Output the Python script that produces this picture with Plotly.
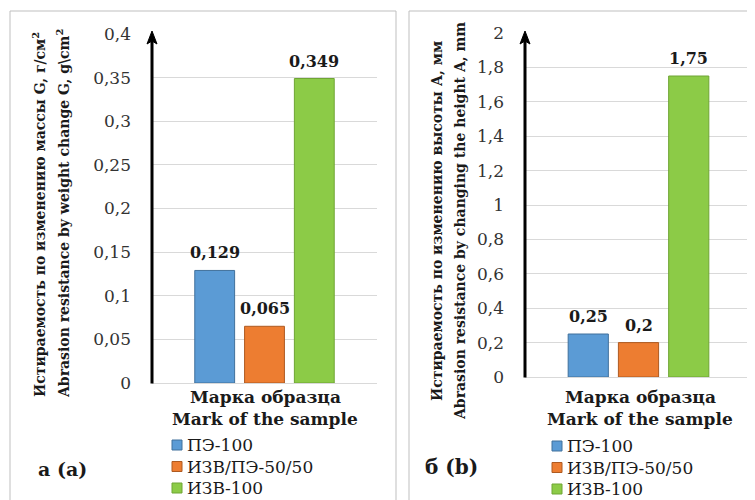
import plotly.graph_objects as go

# ---- data ----
series_names = ["ПЭ-100", "ИЗВ/ПЭ-50/50", "ИЗВ-100"]
category = ["Марка образца"]
weight_loss = [0.129, 0.065, 0.349]      # panel a, g/cm2
height_loss = [0.25, 0.2, 1.75]          # panel b, mm
ticks_a = [0, 0.05, 0.1, 0.15, 0.2, 0.25, 0.3, 0.35, 0.4]
ticks_b = [0, 0.2, 0.4, 0.6, 0.8, 1.0, 1.2, 1.4, 1.6, 1.8, 2.0]
ticklabels_a = ["0", "0,05", "0,1", "0,15", "0,2", "0,25", "0,3", "0,35", "0,4"]
ticklabels_b = ["0", "0,2", "0,4", "0,6", "0,8", "1", "1,2", "1,4", "1,6", "1,8", "2"]

colors = ["#5B9BD5", "#ED7D31", "#8CCB47"]
edges = ["#41719C", "#AE5A21", "#6FA534"]

W, H = 755, 500
OFF = 8  # page body margin
SERIF = "DejaVu Serif"
BARGAP = 0.336
BARGROUPGAP = 0.2


def px(x):
    return (x - OFF) / W


def py(y):
    return 1 - (y - OFF) / H


def fmt(v):
    return ("%g" % v).replace(".", ",")


fig = go.Figure()

for i, name in enumerate(series_names):
    fig.add_trace(go.Bar(
        x=category, y=[weight_loss[i]], name=name,
        marker=dict(color=colors[i], line=dict(color=edges[i], width=1)),
        xaxis="x", yaxis="y", showlegend=False,
    ))
for i, name in enumerate(series_names):
    fig.add_trace(go.Bar(
        x=category, y=[height_loss[i]], name=name,
        marker=dict(color=colors[i], line=dict(color=edges[i], width=1)),
        xaxis="x2", yaxis="y2", showlegend=False,
    ))

axis_common = dict(showgrid=True, gridcolor="#d9d9d9", gridwidth=1,
                   zeroline=False, showline=False,
                   tickfont=dict(family=SERIF, size=17, color="#333333"),
                   ticklabelstandoff=20, fixedrange=True)

fig.update_layout(
    width=W, height=H,
    margin=dict(l=0, r=0, t=0, b=0, autoexpand=False),
    paper_bgcolor="white", plot_bgcolor="white",
    barmode="group", bargap=BARGAP, bargroupgap=BARGROUPGAP,
    showlegend=False,
    xaxis=dict(domain=[px(152), px(377)], showticklabels=False, showgrid=False,
               showline=True, linecolor="#d9d9d9", linewidth=1, fixedrange=True),
    xaxis2=dict(domain=[px(525), px(752)], showticklabels=False, showgrid=False,
                showline=True, linecolor="#d9d9d9", linewidth=1, fixedrange=True,
                anchor="y2"),
    yaxis=dict(domain=[py(383), py(34)], range=[0, 0.4], tickvals=ticks_a,
               ticktext=ticklabels_a, anchor="x", **axis_common),
    yaxis2=dict(domain=[py(377), py(33)], range=[0, 2], tickvals=ticks_b,
                ticktext=ticklabels_b, anchor="x2", **axis_common),
)

shapes = [
    dict(type="rect", xref="paper", yref="paper", x0=px(10), x1=px(396),
         y0=py(515), y1=py(11), line=dict(color="#bfbfbf", width=1)),
    dict(type="rect", xref="paper", yref="paper", x0=px(409), x1=px(770),
         y0=py(515), y1=py(11), line=dict(color="#bfbfbf", width=1)),
]

# vertical axis lines with arrowheads
for ax_x, y_bottom in ((152, 383.5), (525, 377.5)):
    shapes.append(dict(type="line", xref="paper", yref="paper",
                       x0=px(ax_x), x1=px(ax_x), y0=py(y_bottom), y1=py(38),
                       line=dict(color="black", width=3)))
    path = "M {a},{b} L {c},{d} L {e},{b} L {c},{f} Z".format(
        a=px(ax_x - 5), b=py(44), c=px(ax_x), d=py(31), e=px(ax_x + 5), f=py(41))
    shapes.append(dict(type="path", xref="paper", yref="paper", path=path,
                       fillcolor="black", line=dict(color="black", width=1)))

annotations = []

# value labels above each grouped bar (group slot derived from bargap)
slot = (1 - BARGAP) / len(series_names)
for xr, yr, vals in (("x", "y", weight_loss), ("x2", "y2", height_loss)):
    for i, v in enumerate(vals):
        annotations.append(dict(
            x=(i - (len(vals) - 1) / 2) * slot, y=v, xref=xr, yref=yr,
            xanchor="center", yanchor="bottom", yshift=6, showarrow=False,
            text="<b>" + fmt(v) + "</b>",
            font=dict(family=SERIF, size=16, color="#1a1a1a")))


def label(x, y, text, size, **kw):
    d = dict(x=px(x), y=py(y), xref="paper", yref="paper", showarrow=False,
             xanchor="center", yanchor="middle", text=text,
             font=dict(family=SERIF, size=size, color="#1a1a1a"))
    d.update(kw)
    annotations.append(d)


# y titles
label(39, 215, "<b>Истираемость по изменению массы G, г/см<sup>2</sup></b>", 14, textangle=-90)
label(63, 214, "<b>Abrasion resistance by weight change G, g\\cm<sup>2</sup></b>", 14, textangle=-90)
label(437, 221, "<b>Истираемость по изменению высоты А, мм</b>", 14, textangle=-90)
label(460, 221, "<b>Abrasion resistance by changing the height A, mm</b>", 14, textangle=-90)

# x titles
for cx in (265, 640):
    label(cx, 397, "<b>Марка образца</b>", 17)
    label(cx, 419, "<b>Mark of the sample</b>", 17)

# legends (one per panel)
for lx, ly0 in ((172, 445), (552, 446)):
    for i, name in enumerate(series_names):
        yc = ly0 + i * 21.5
        shapes.append(dict(type="rect", xref="paper", yref="paper",
                           x0=px(lx), x1=px(lx + 10), y0=py(yc + 5), y1=py(yc - 5),
                           fillcolor=colors[i], line=dict(color=edges[i], width=1)))
        label(lx + 13, yc, name, 17, xanchor="left")

# panel labels
label(62, 469, "<b>а (а)</b>", 19)
label(452, 467, "<b>б (b)</b>", 20)

fig.update_layout(shapes=shapes, annotations=annotations)

fig.write_html("out.html")
